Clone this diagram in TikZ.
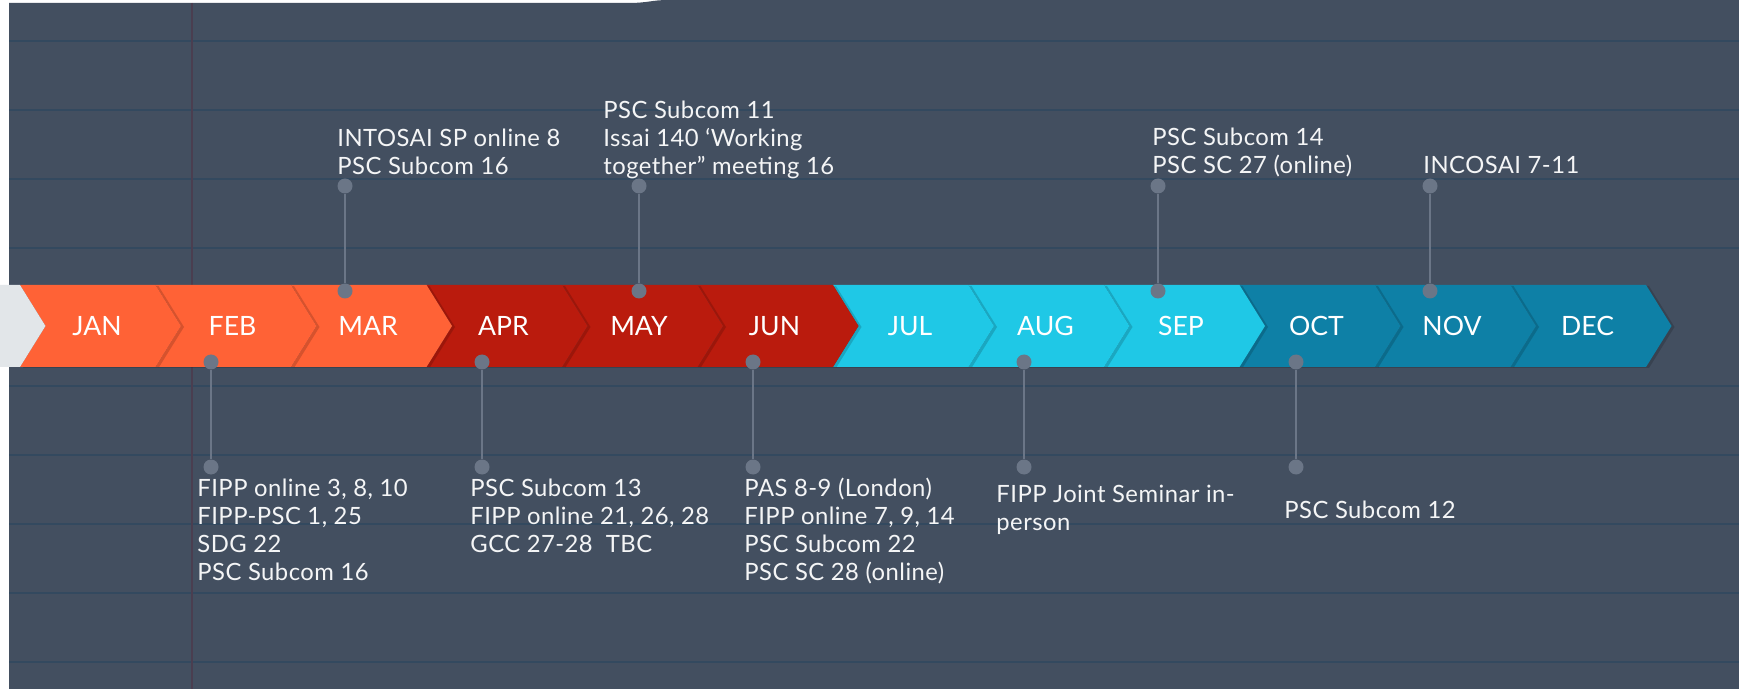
\documentclass[tikz,border=0pt]{standalone}
\usepackage{fontspec}
\setmainfont{Lato}
\newfontfamily\evfont{Lato}[LetterSpace=2]
\usetikzlibrary{positioning}
\definecolor{slate}{HTML}{434F60}
\definecolor{ruleblue}{HTML}{33495F}
\definecolor{marginred}{HTML}{4A3E50}
\definecolor{stemgray}{HTML}{6B7687}
\definecolor{startgray}{HTML}{E2E6E9}
\definecolor{qone}{HTML}{FF6236}
\definecolor{qtwo}{HTML}{BA1B0D}
\definecolor{qthree}{HTML}{1FC8E6}
\definecolor{qfour}{HTML}{0E80A6}
\tikzset{
	chev/.style={preaction={fill=black,fill opacity=.16,transform canvas={xshift=1.5pt,yshift=-.5pt}}},
	ruled/.style={draw=ruleblue,line width=.9pt},
	evdot/.style={circle,fill=stemgray,inner sep=0,minimum size=7.5pt},
	evline/.style={draw=stemgray,line width=1pt},
	evtext/.style={anchor=base west,align=left,inner sep=0,text=white!94!slate,font=\evfont\fontsize{11.9}{14}\selectfont},
	month/.style={anchor=base,inner sep=0,text=white,font=\fontsize{13.3}{16}\selectfont}
}
\begin{document}
\begin{tikzpicture}[x=0.5pt,y=-0.5pt]
	\useasboundingbox (0,0) rectangle (1739,689);
	%%% paper
	\fill[white] (0,0) rectangle (1739,689);
	\fill[slate] (9,689) -- (9,3) -- (628,3) .. controls (648,3) and (652,0) .. (668,0) -- (1739,0) -- (1739,689) -- cycle;
	\draw[ruled] (9,41) -- (1739,41);
	\draw[ruled] (9,110) -- (1739,110);
	\draw[ruled] (9,179) -- (1739,179);
	\draw[ruled] (9,248) -- (1739,248);
	\draw[ruled] (9,386) -- (1739,386);
	\draw[ruled] (9,455) -- (1739,455);
	\draw[ruled] (9,524) -- (1739,524);
	\draw[ruled] (9,593) -- (1739,593);
	\draw[ruled] (9,662) -- (1739,662);
	\draw[marginred,line width=1.1pt] (192,3) -- (192,689);
	
	%%% band, right to left
	\fill[chev,qfour] (1510.5,285) -- (1646,285) -- (1671.5,326) -- (1646,367) -- (1510.5,367) -- (1536,326) -- cycle;
	\fill[chev,qfour] (1375,285) -- (1510.5,285) -- (1536,326) -- (1510.5,367) -- (1375,367) -- (1400.5,326) -- cycle;
	\fill[chev,qfour] (1239.5,285) -- (1375,285) -- (1400.5,326) -- (1375,367) -- (1239.5,367) -- (1265,326) -- cycle;
	\fill[chev,qthree] (1104,285) -- (1239.5,285) -- (1265,326) -- (1239.5,367) -- (1104,367) -- (1129.5,326) -- cycle;
	\fill[chev,qthree] (968.5,285) -- (1104,285) -- (1129.5,326) -- (1104,367) -- (968.5,367) -- (994,326) -- cycle;
	\fill[chev,qthree] (833,285) -- (968.5,285) -- (994,326) -- (968.5,367) -- (833,367) -- (858.5,326) -- cycle;
	\fill[chev,qtwo] (697.5,285) -- (833,285) -- (858.5,326) -- (833,367) -- (697.5,367) -- (723,326) -- cycle;
	\fill[chev,qtwo] (562,285) -- (697.5,285) -- (723,326) -- (697.5,367) -- (562,367) -- (587.5,326) -- cycle;
	\fill[chev,qtwo] (426.5,285) -- (562,285) -- (587.5,326) -- (562,367) -- (426.5,367) -- (452,326) -- cycle;
	\fill[chev,qone] (291,285) -- (426.5,285) -- (452,326) -- (426.5,367) -- (291,367) -- (316.5,326) -- cycle;
	\fill[chev,qone] (155.5,285) -- (291,285) -- (316.5,326) -- (291,367) -- (155.5,367) -- (181,326) -- cycle;
	\fill[chev,qone] (20,285) -- (155.5,285) -- (181,326) -- (155.5,367) -- (20,367) -- (45.5,326) -- cycle;
	\fill[startgray] (0,285) -- (20,285) -- (45.5,326) -- (20,367) -- (0,367) -- cycle;
	
	\node[month] (jan) at (97,336) {JAN};
	\node[month] (feb) at (232.5,336) {FEB};
	\node[month] (mar) at (368,336) {MAR};
	\node[month] (apr) at (503.5,336) {APR};
	\node[month] (may) at (639,336) {MAY};
	\node[month] (jun) at (774.5,336) {JUN};
	\node[month] (jul) at (910,336) {JUL};
	\node[month] (aug) at (1045.5,336) {AUG};
	\node[month] (sep) at (1181,336) {SEP};
	\node[month] (oct) at (1316.5,336) {OCT};
	\node[month] (nov) at (1452,336) {NOV};
	\node[month] (dec) at (1587.5,336) {DEC};
	
	%%% above the band
	\node[evdot] (marB) at (345,291) {};
	\node[evdot] (marT) at (345,186) {};
	\draw[evline] (marB) -- (marT);
	\node[evtext] (marTxt) at (337,175) {INTOSAI SP online 8\\PSC Subcom 16};
	
	\node[evdot] (mayB) at (639,291) {};
	\node[evdot] (mayT) at (639,186) {};
	\draw[evline] (mayB) -- (mayT);
	\node[evtext] (mayTxt) at (603,175) {PSC Subcom 11\\Issai 140 ‘Working\\together” meeting 16};
	
	\node[evdot] (sepB) at (1158,291) {};
	\node[evdot] (sepT) at (1158,186) {};
	\draw[evline] (sepB) -- (sepT);
	\node[evtext] (sepTxt) at (1152,174) {PSC Subcom 14\\PSC SC 27 (online)};
	
	\node[evdot] (novB) at (1430,291) {};
	\node[evdot] (novT) at (1430,186) {};
	\draw[evline] (novB) -- (novT);
	\node[evtext] (novTxt) at (1423,174) {INCOSAI 7-11};
	
	%%% below the band
	\node[evdot] (febT) at (211,362) {};
	\node[evdot] (febB) at (211,467) {};
	\draw[evline] (febT) -- (febB);
	\node[evtext] (febTxt) at (197,580) {FIPP online 3, 8, 10\\FIPP-PSC 1, 25\\SDG 22\\PSC Subcom 16};
	
	\node[evdot] (aprT) at (482,362) {};
	\node[evdot] (aprB) at (482,467) {};
	\draw[evline] (aprT) -- (aprB);
	\node[evtext] (aprTxt) at (470,552) {PSC Subcom 13\\FIPP online 21, 26, 28\\GCC 27-28~~TBC};
	
	\node[evdot] (junT) at (753,362) {};
	\node[evdot] (junB) at (753,467) {};
	\draw[evline] (junT) -- (junB);
	\node[evtext] (junTxt) at (744,580) {PAS 8-9 (London)\\FIPP online 7, 9, 14\\PSC Subcom 22\\PSC SC 28 (online)};
	
	\node[evdot] (augT) at (1024,362) {};
	\node[evdot] (augB) at (1024,467) {};
	\draw[evline] (augT) -- (augB);
	\node[evtext] (augTxt) at (996,530) {FIPP Joint Seminar in-\\person};
	
	\node[evdot] (octT) at (1296,362) {};
	\node[evdot] (octB) at (1296,467) {};
	\draw[evline] (octT) -- (octB);
	\node[evtext] (octTxt) at (1284,518) {PSC Subcom 12};
\end{tikzpicture}
\end{document}
